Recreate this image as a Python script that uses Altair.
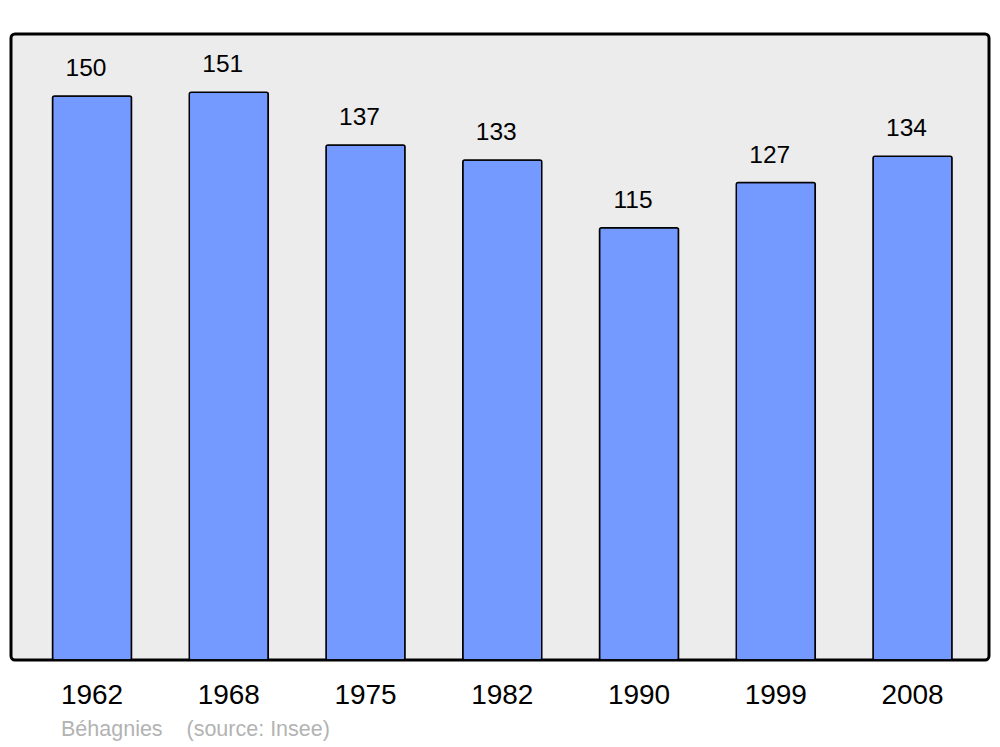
import altair as alt
import pandas as pd

years = ["1962", "1968", "1975", "1982", "1990", "1999", "2008"]
population = [150, 151, 137, 133, 115, 127, 134]
footer = "Béhagnies\u00a0\u00a0\u00a0\u00a0(source: Insee)"

df = pd.DataFrame({"year": years, "pop": population})

x = alt.X("year:N", sort=years, title=None,
          scale=alt.Scale(paddingInner=0.4223, paddingOuter=0.287, align=0.529),
          axis=alt.Axis(domain=False, ticks=False, labelAngle=0, labelFontSize=28,
                        labelFont="Liberation Sans", labelColor="#000000", labelPadding=21))
y = alt.Y("pop:Q", title=None, scale=alt.Scale(domain=[0, 166.5], nice=False, zero=True),
          axis=None)

base = alt.Chart(df)

bars = base.mark_bar(color="#7499ff", stroke="#000000", strokeWidth=1.5,
                     cornerRadius=2).encode(x=x, y=y)

labels = base.mark_text(baseline="alphabetic", dy=-20, dx=-6, fontSize=24.5,
                        font="Liberation Sans", color="#000000").encode(
    x=x, y=y, text="pop:Q")

foot = alt.Chart(pd.DataFrame({"t": [footer]})).mark_text(
    align="left", baseline="middle", fontSize=21.5, font="Liberation Sans",
    color="#b3b3b3", clip=False).encode(
    x=alt.value(50), y=alt.value(696), text="t:N")

chart = alt.layer(bars, labels, foot).properties(
    width=978, height=626,
    padding={"left": 3, "top": 26, "right": 3, "bottom": 86},
    autosize=alt.AutoSizeParams(type="none"),
    background="#ffffff",
).configure_view(
    fill="#ececec", stroke="#000000", strokeWidth=3, cornerRadius=4
)

chart.save("out.html", embed_options={"renderer": "svg", "actions": False})
